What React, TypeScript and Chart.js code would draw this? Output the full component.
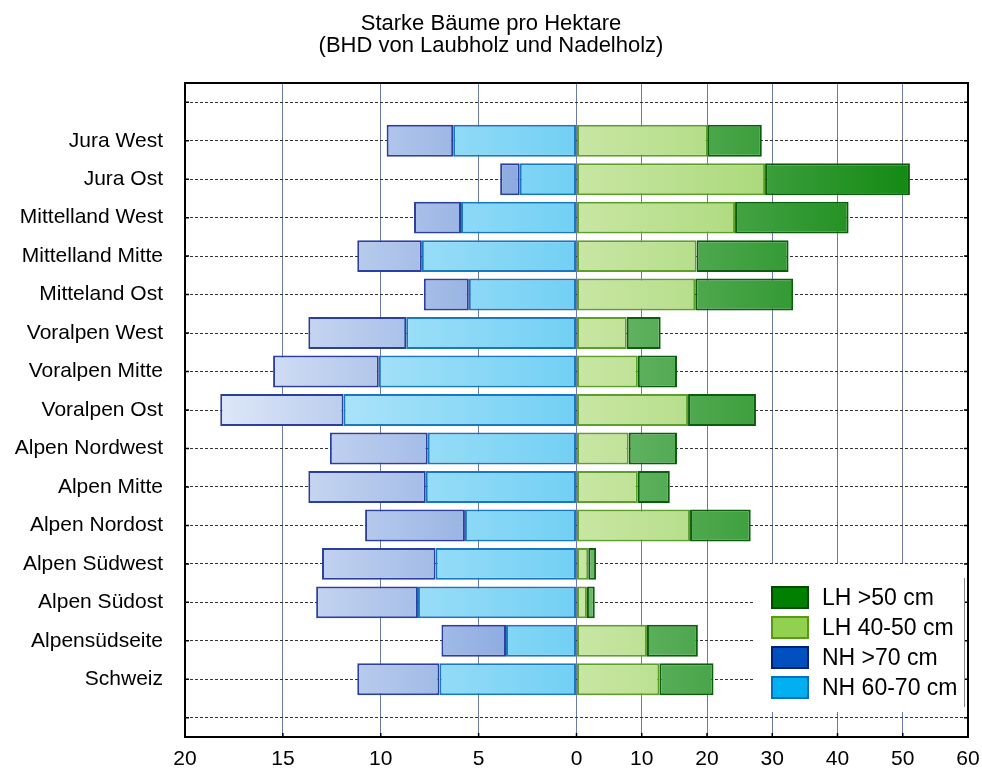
import React, { useEffect, useRef } from 'react';
import { Chart, registerables } from 'chart.js';

Chart.register(...registerables);

// ---- data ----
const regions = [
  'Jura West', 'Jura Ost', 'Mittelland West', 'Mittelland Mitte', 'Mitteland Ost',
  'Voralpen West', 'Voralpen Mitte', 'Voralpen Ost', 'Alpen Nordwest', 'Alpen Mitte',
  'Alpen Nordost', 'Alpen Südwest', 'Alpen Südost', 'Alpensüdseite', 'Schweiz',
];
const nh6070 = [6.3, 2.9, 5.9, 7.9, 5.5, 8.7, 10.1, 11.9, 7.6, 7.7, 5.7, 7.2, 8.1, 3.6, 7.0];
const nh70 = [3.4, 1.0, 2.4, 3.3, 2.3, 5.0, 5.4, 6.3, 5.0, 6.0, 5.1, 5.8, 5.2, 3.3, 4.2];
const lh4050 = [20.1, 28.9, 24.3, 18.4, 18.2, 7.7, 9.4, 17.1, 8.0, 9.4, 17.4, 1.8, 1.6, 10.8, 12.7];
const lh50 = [8.3, 22.2, 17.4, 14.1, 15.0, 5.2, 6.0, 10.4, 7.4, 4.9, 9.3, 1.2, 1.2, 7.8, 8.3];
const nhTicks = [20, 15, 10, 5, 0];
const lhTicks = [10, 20, 30, 40, 50, 60];
const NH_MAX = 20;
const LH_MAX = 60;

const titleLines = ['Starke Bäume pro Hektare', '(BHD von Laubholz und Nadelholz)'];
const legendItems = [
  { label: 'LH >50 cm', fill: '#008000', border: '#004d00' },
  { label: 'LH 40-50 cm', fill: '#92d050', border: '#5a9a10' },
  { label: 'NH >70 cm', fill: '#0050c0', border: '#00207a' },
  { label: 'NH 60-70 cm', fill: '#00b0f0', border: '#0070c0' },
];

const FONT = "'Liberation Sans', Arial, Helvetica, sans-serif";

const pad = (arr: (number | null)[]) => [null, ...arr, null];
const lhScale = (v: number) => (v * NH_MAX) / LH_MAX;

function gradient(ctx: any, stops: [string, string], side: 'L' | 'R', fallback: string) {
  const chart = ctx.chart;
  const area = chart.chartArea;
  if (!area) return fallback;
  const zero = chart.scales.x.getPixelForValue(0);
  const g =
    side === 'L'
      ? chart.ctx.createLinearGradient(area.left, 0, zero, 0)
      : chart.ctx.createLinearGradient(zero, 0, area.right, 0);
  g.addColorStop(0, stops[0]);
  g.addColorStop(1, stops[1]);
  return g;
}

const framePlugin = {
  id: 'frame',
  afterDatasetsDraw(chart: any) {
    const { ctx, chartArea: a, scales } = chart;
    ctx.save();
    ctx.strokeStyle = '#000';
    ctx.lineWidth = 2;
    ctx.strokeRect(a.left, a.top, a.right - a.left, a.bottom - a.top);
    ctx.lineWidth = 1.5;
    const ys = scales.y;
    ys.ticks.forEach((_t: any, i: number) => {
      const y = ys.getPixelForValue(i);
      ctx.beginPath();
      ctx.moveTo(a.left, y);
      ctx.lineTo(a.left + 4, y);
      ctx.moveTo(a.right - 4, y);
      ctx.lineTo(a.right, y);
      ctx.stroke();
    });
    const xs = scales.x;
    xs.ticks.forEach((t: any) => {
      const x = xs.getPixelForValue(t.value);
      ctx.beginPath();
      ctx.moveTo(x, a.bottom);
      ctx.lineTo(x, a.bottom - 4);
      ctx.stroke();
    });
    ctx.restore();
  },
};

const legendPlugin = {
  id: 'boxLegend',
  afterDraw(chart: any) {
    const { ctx, chartArea: a } = chart;
    const right = a.right - 4;
    const left = a.right - 213;
    const top = a.bottom - 173;
    const bottom = a.bottom - 25;
    ctx.save();
    ctx.fillStyle = '#fff';
    ctx.fillRect(left, top, right - left, bottom - top);
    ctx.strokeStyle = '#888';
    ctx.lineWidth = 1;
    ctx.beginPath();
    ctx.moveTo(right + 0.5, top + 14);
    ctx.lineTo(right + 0.5, bottom - 5);
    ctx.stroke();
    ctx.font = `23px ${FONT}`;
    ctx.textBaseline = 'middle';
    ctx.textAlign = 'left';
    legendItems.forEach((it, i) => {
      const sx = left + 16;
      const sy = top + 22 + i * 30;
      ctx.fillStyle = it.fill;
      ctx.fillRect(sx, sy, 38, 23);
      ctx.strokeStyle = it.border;
      ctx.lineWidth = 2;
      ctx.strokeRect(sx + 1, sy + 1, 36, 21);
      ctx.fillStyle = '#000';
      ctx.fillText(it.label, sx + 51, sy + 12.5);
    });
    ctx.restore();
  },
};

export default function App() {
  const ref = useRef<HTMLCanvasElement | null>(null);

  useEffect(() => {
    document.body.style.margin = '0';
    document.body.style.overflow = 'hidden';
    if (!ref.current) return;

    const labels = ['', ...regions, ''];
    const common = {
      borderWidth: 2,
      borderSkipped: false,
      barPercentage: 0.83,
      categoryPercentage: 1,
    };

    const chart = new Chart(ref.current, {
      type: 'bar',
      data: {
        labels,
        datasets: [
          {
            label: 'NH 60-70 cm',
            data: pad(nh6070.map((v) => -v)),
            backgroundColor: (c: any) => gradient(c, ['#d0f0fc', '#72d0f4'], 'L', '#72d0f4'),
            borderColor: '#1878c0',
            ...common,
          },
          {
            label: 'NH >70 cm',
            data: pad(nh70.map((v) => -v)),
            backgroundColor: (c: any) => gradient(c, ['#e6eefa', '#7c9edc'], 'L', '#7c9edc'),
            borderColor: '#2b3f9e',
            ...common,
          },
          {
            label: 'LH 40-50 cm',
            data: pad(lh4050.map(lhScale)),
            backgroundColor: (c: any) => gradient(c, ['#c8e6a4', '#8ccc50'], 'R', '#b0dc80'),
            borderColor: '#5e9e2a',
            ...common,
          },
          {
            label: 'LH >50 cm',
            data: pad(lh50.map(lhScale)),
            backgroundColor: (c: any) => gradient(c, ['#6eb96e', '#048104'], 'R', '#40a040'),
            borderColor: '#0b5e0b',
            ...common,
          },
        ],
      },
      options: {
        indexAxis: 'y',
        responsive: false,
        animation: false,
        layout: { padding: { left: 14, right: 14, top: 0, bottom: 0 } },
        font: { family: FONT },
        plugins: {
          legend: { display: false },
          tooltip: { enabled: false },
          title: {
            display: true,
            text: titleLines,
            color: '#000',
            font: { family: FONT, size: 22, weight: 'normal', lineHeight: 1.0 },
            padding: { top: 13, bottom: 26 },
          },
        },
        scales: {
          x: {
            type: 'linear',
            stacked: true,
            min: -NH_MAX,
            max: NH_MAX,
            afterBuildTicks: (s: any) => {
              s.ticks = [
                ...nhTicks.map((v) => ({ value: -v })),
                ...lhTicks.map((v) => ({ value: lhScale(v) })),
              ];
            },
            afterFit: (s: any) => {
              s.height = 32;
              s.paddingLeft = 0;
              s.paddingRight = 0;
            },
            ticks: {
              color: '#000',
              font: { family: FONT, size: 21 },
              padding: 10,
              maxRotation: 0,
              autoSkip: false,
              callback: (value: any) => {
                const v = Number(value);
                return v < 0 ? String(-v) : String(Math.round((v * LH_MAX) / NH_MAX));
              },
            },
            grid: {
              color: '#6b7ba6',
              lineWidth: 1,
              drawTicks: false,
            },
            border: { display: false },
          },
          y: {
            type: 'category',
            stacked: true,
            offset: true,
            afterFit: (s: any) => {
              s.width = 171;
              s.paddingTop = 0;
              s.paddingBottom = 0;
            },
            ticks: {
              color: '#000',
              font: { family: FONT, size: 21 },
              padding: 22,
              autoSkip: false,
            },
            grid: {
              offset: false,
              color: '#333',
              lineWidth: 1,
              drawTicks: false,
            },
            border: { display: false, dash: [3, 2] },
          },
        },
      } as any,
      plugins: [framePlugin, legendPlugin],
    });

    return () => chart.destroy();
  }, []);

  return (
    <div style={{ width: 982, height: 769 }}>
      <canvas ref={ref} width={982} height={769} style={{ display: 'block' }} />
    </div>
  );
}
